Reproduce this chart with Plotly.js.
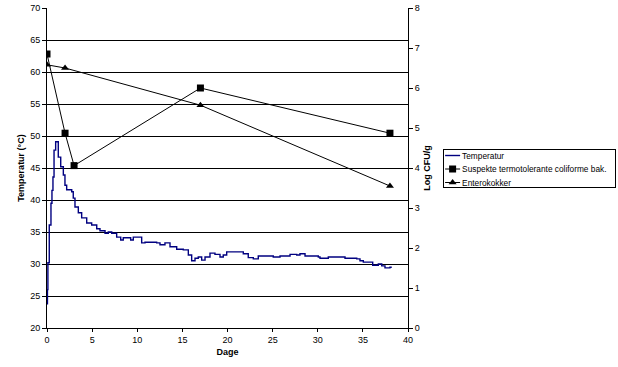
<!DOCTYPE html>
<html>
<head>
<meta charset="utf-8">
<script src="https://cdn.plot.ly/plotly-3.0.1.min.js"></script>
<style>html,body{margin:0;padding:0;background:#fff;}#chart{width:618px;height:367px;}</style>
</head>
<body>
<div id="chart"></div>
<script>
// Temperature curve (day, °C)
const tempDays = [0, 0.05, 0.1, 0.17, 0.25, 0.44, 0.55, 0.66, 0.78, 0.96, 1.25, 1.52, 1.81, 1.99, 2.18, 2.74, 2.91, 3.10, 3.47, 3.84, 4.40, 4.95, 5.51, 5.87, 6.43, 6.79, 7.17, 7.72, 8.17, 8.45, 9.01, 9.27, 9.56, 9.94, 10.49, 10.86, 11.41, 12.15, 12.52, 13.07, 13.63, 14.37, 15.10, 15.66, 16.03, 16.40, 16.76, 17.14, 17.51, 18.06, 18.61, 19.17, 19.53, 19.91, 21.20, 21.75, 22.30, 22.86, 23.41, 24.34, 25.07, 25.82, 26.93, 27.67, 28.03, 28.59, 30.06, 30.25, 30.80, 31.17, 33.02, 34.32, 34.68, 35.05, 35.98, 36.09, 36.71, 37.09, 37.45, 38.0, 38.2];
const tempValues = [23.8, 26.0, 30.2, 30.2, 36.1, 39.5, 41.5, 43.6, 47.8, 49.1, 46.7, 45.2, 43.9, 42.3, 41.6, 41.3, 40.3, 38.9, 38.0, 37.2, 36.4, 36.1, 35.5, 35.2, 34.8, 35.0, 34.8, 34.2, 33.75, 34.1, 34.1, 33.75, 34.2, 34.2, 33.3, 33.4, 33.4, 33.3, 33.0, 33.3, 32.7, 32.3, 32.2, 31.4, 30.5, 30.9, 31.1, 30.6, 31.1, 31.7, 31.5, 31.1, 31.4, 31.9, 31.9, 31.6, 31.0, 30.8, 31.25, 31.25, 31.1, 31.25, 31.5, 31.4, 31.6, 31.25, 31.1, 30.9, 30.9, 31.1, 30.9, 30.8, 30.5, 30.3, 30.3, 29.8, 30.0, 29.7, 29.4, 29.5, 29.5];

// Suspekte termotolerante coliforme bak. (day, log CFU/g)
const colDays = [0, 2, 3, 17, 38];
const colValues = [6.85, 4.87, 4.06, 6.0, 4.87];

// Enterokokker (day, log CFU/g)
const entDays = [0, 2, 17, 38];
const entValues = [6.58, 6.5, 5.57, 3.55];

const names = ["Temperatur", "Suspekte termotolerante coliforme bak.", "Enterokokker"];

const traces = [
  {x: tempDays, y: tempValues, name: names[0], type: 'scatter', mode: 'lines',
   line: {color: '#000080', width: 1.4, shape: 'hv'}, yaxis: 'y'},
  {x: colDays, y: colValues, name: names[1], type: 'scatter', mode: 'lines+markers',
   line: {color: '#000', width: 1}, marker: {symbol: 'square', size: 7, color: '#000'}, yaxis: 'y2'},
  {x: entDays, y: entValues, name: names[2], type: 'scatter', mode: 'lines+markers',
   line: {color: '#000', width: 1}, marker: {symbol: 'triangle-up', size: 7, color: '#000'}, yaxis: 'y2'}
];

const tickFont = {family: 'Liberation Sans, Arial, sans-serif', size: 9, color: '#000'};
const layout = {
  width: 618, height: 367,
  margin: {l: 47, r: 210, t: 8, b: 39, autoexpand: false},
  paper_bgcolor: '#fff', plot_bgcolor: '#fff',
  font: tickFont,
  showlegend: true,
  legend: {xref: 'container', yref: 'container', x: 0.717, y: 0.594, xanchor: 'left', yanchor: 'top',
           borderwidth: 0, bgcolor: 'rgba(0,0,0,0)',
           font: {family: 'Liberation Sans, Arial, sans-serif', size: 8.3, color: '#000'},
           tracegroupgap: 0, itemwidth: 30},
  xaxis: {range: [0, 40], tick0: 0, dtick: 5, showgrid: false, zeroline: false,
          showline: true, linecolor: '#000', linewidth: 1,
          ticks: 'outside', ticklen: 3, tickcolor: '#000', tickfont: tickFont,
          title: {text: '<b>Dage</b>', font: tickFont, standoff: 4}},
  yaxis: {range: [20, 70], tick0: 20, dtick: 5, showgrid: true, gridcolor: '#000', gridwidth: 1,
          zeroline: false, showline: true, linecolor: '#000', linewidth: 1,
          ticks: 'outside', ticklen: 4, tickcolor: '#000', tickfont: tickFont,
          title: {text: '<b>Temperatur (°C)</b>', font: tickFont, standoff: 4}},
  yaxis2: {range: [0, 8], tick0: 0, dtick: 1, overlaying: 'y', side: 'right', showgrid: false,
           zeroline: false, showline: true, linecolor: '#000', linewidth: 1,
           ticks: 'outside', ticklen: 4, tickcolor: '#000', tickfont: tickFont,
           title: {text: '<b>Log CFU/g</b>', font: tickFont, standoff: 4}}
};

// Compact the legend entries (short symbol column, tight rows) and frame it (Excel style)
function compactLegend(gd) {
  const leg = gd.querySelector('.legend');
  if (!leg) return;
  const rowGap = 13.5, symW = 15, textX = 19;
  leg.querySelectorAll('.traces').forEach((tr, i) => {
    tr.setAttribute('transform', 'translate(0,' + (6.5 + rowGap * i) + ')');
    const t = tr.querySelector('.legendtext');
    if (t) { t.setAttribute('x', textX); t.querySelectorAll('tspan').forEach(s => { if (s.hasAttribute('x')) s.setAttribute('x', textX); }); }
    tr.querySelectorAll('.legendlines path').forEach(p => p.setAttribute('d', 'M2,0h' + symW));
    tr.querySelectorAll('.legendsymbols path').forEach(p => p.setAttribute('transform', 'translate(' + (2 + symW / 2) + ',0)'));
  });
  const frame = document.createElementNS('http://www.w3.org/2000/svg', 'rect');
  frame.setAttribute('x', 0.5);
  frame.setAttribute('y', 0.5);
  frame.setAttribute('width', 172);
  frame.setAttribute('height', 38);
  frame.setAttribute('fill', 'none');
  frame.setAttribute('stroke', '#000');
  frame.setAttribute('stroke-width', 1);
  frame.setAttribute('shape-rendering', 'crispEdges');
  leg.appendChild(frame);
}

const gd = document.getElementById('chart');
Plotly.newPlot(gd, traces, layout, {displayModeBar: false, staticPlot: true}).then(() => compactLegend(gd));
</script>
</body>
</html>
